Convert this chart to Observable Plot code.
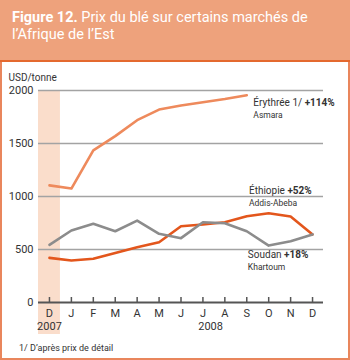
<!DOCTYPE html>
<html><head><meta charset="utf-8">
<script src="https://cdn.jsdelivr.net/npm/d3@7"></script>
<script src="https://cdn.jsdelivr.net/npm/@observablehq/plot@0.6"></script>
<style>
body{margin:0;width:350px;height:360px;position:relative;overflow:hidden;background:#fff;font-family:Roboto,sans-serif}
#chart{position:absolute;left:0;top:0}
#panel{position:absolute;left:0;top:61px;width:346px;height:297px;border:2px solid #E9865C;border-top:none;pointer-events:none}
#hdr{position:absolute;left:0;top:0;width:350px;height:60px;background:#EEA27C;border-bottom:2px solid #E4692F}
#title{position:absolute;left:12px;top:9px;color:#fff;font-size:14.5px;line-height:17px;white-space:nowrap}
#note{position:absolute;left:19px;top:343px;font-size:9px;color:#333;white-space:nowrap}
</style></head>
<body>
<div id="chart"></div>
<div id="panel"></div>
<div id="hdr"><div id="title"><b>Figure 12.</b> Prix du blé sur certains marchés de<br>l’Afrique de l’Est</div></div>
<div id="note">1/ D’après prix de détail</div>
<script>
const months = ["D","J","F","M","A","M","J","J","A","S","O","N","D"];
const years = ["2007","2008"];
const eritrea = [1105,1075,1435,1570,1720,1820,1858,1890,1920,1955];
const ethiopia = [421,396,412,468,521,569,720,736,757,814,842,811,642];
const sudan = [544,679,742,672,773,648,607,757,748,672,537,578,642];
const names = ["Érythrée 1/","Éthiopie","Soudan"];
const cities = ["Asmara","Addis-Abeba","Khartoum"];
const changes = ["+114%","+52%","+18%"];
const yTicks = [0,500,1000,1500,2000];

const seriesValues = [eritrea, ethiopia, sudan];
const rows = seriesValues.flatMap((vals, k) => vals.map((v, i) => ({name: names[k], i, v})));
// label anchors (month index, value)
const labelPos = [{x:9.3, y:1880, cy:1762},{x:9.1, y:1050, cy:932},{x:9.05, y:446, cy:328}];
const labels = names.map((n, k) => ({name: n, city: cities[k], pct: changes[k], ...labelPos[k]}));
const yearRows = [{x:0, label:years[0]},{x:7.35, label:years[1]}];

const chart = Plot.plot({
  width: 350, height: 360,
  marginTop: 90, marginBottom: 58, marginLeft: 38, marginRight: 27,
  style: {fontFamily: "Roboto, sans-serif", fontSize: "11px", color: "#333", background: "transparent"},
  x: {type: "linear", domain: [-0.5, 12.5]},
  y: {domain: [0, 2000]},
  color: {domain: names, range: ["#EE8A5C", "#E3561C", "#8C8C8C"]},
  marks: [
    Plot.rect([0], {x1: i => i - 0.5, x2: i => i + 0.5, y1: 0, y2: 2000, fill: "#FADDCB", insetBottom: -32}),
    Plot.ruleY(yTicks.filter(d => d > 0), {stroke: "#a3a3a3", strokeWidth: 1.5}),
    Plot.line(rows, {x: "i", y: "v", z: "name", stroke: "name", strokeWidth: 2.6, strokeLinejoin: "round", strokeLinecap: "round"}),
    Plot.ruleY([0], {stroke: "#555", strokeWidth: 2}),
    Plot.ruleX(d3.range(months.length), {x: d => d, y1: 0, y2: 0, insetTop: -5, stroke: "#555", strokeWidth: 1.5}),
    Plot.axisX(d3.range(months.length), {tickSize: 0, tickPadding: 7, tickFormat: i => months[i], label: null, fontSize: 11}),
    Plot.axisY(yTicks, {tickSize: 0, tickPadding: 5, tickFormat: d => String(d), label: null, fontSize: 11}),
    Plot.text(yearRows, {x: "x", y: 0, text: "label", dy: 24, fontSize: 11}),
    Plot.text(["USD/tonne"], {frameAnchor: "top-left", dx: -30, dy: -17, textAnchor: "start", fontSize: 10}),
    Plot.text(labels, {x: "x", y: "y", text: d => d.name + " " + d.pct, textAnchor: "start", fontSize: 10, fill: "#333"}),
    Plot.text(labels, {x: "x", y: "cy", text: "city", textAnchor: "start", fontSize: 8.5, fill: "#333"})
  ]
});
document.getElementById("chart").appendChild(chart);
d3.select(chart).selectAll("text").each(function() {
  const t = this.textContent;
  const m = t.match(/^(.*\s)(\+\d+%)$/);
  if (m && this.childElementCount === 0) {
    const sel = d3.select(this);
    sel.text(null);
    sel.append("tspan").text(m[1]);
    sel.append("tspan").attr("font-weight", "bold").text(m[2]);
  }
});
</script>
</body></html>
